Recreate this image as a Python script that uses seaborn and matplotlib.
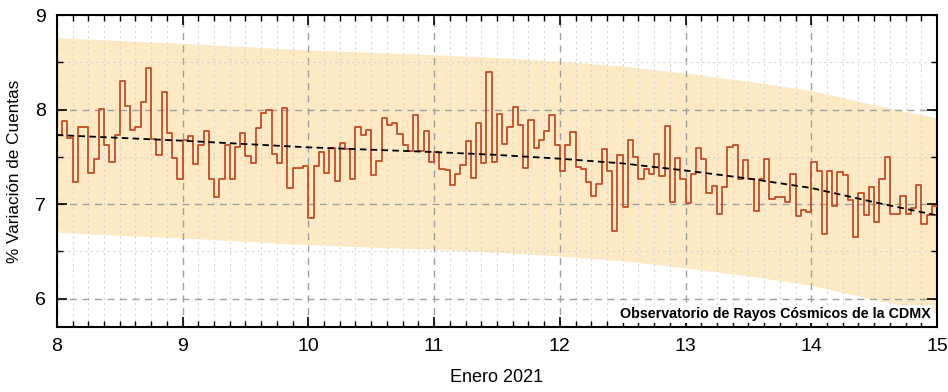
import numpy as np
import pandas as pd
import matplotlib
matplotlib.use("Agg")
import matplotlib.pyplot as plt
import seaborn as sns
from matplotlib.ticker import MultipleLocator

# hourly % variation of counts, 8 Jan 00h .. 14 Jan 23h
variacion = [
    7.73, 7.88, 7.70, 7.23, 7.82, 7.81, 7.33, 7.48, 8.01, 7.62, 7.45, 7.73,
    8.30, 8.04, 7.78, 7.81, 8.08, 8.44, 7.69, 7.52, 8.19, 7.75, 7.49, 7.27,
    7.68, 7.72, 7.42, 7.63, 7.77, 7.26, 7.07, 7.27, 7.62, 7.26, 7.60, 7.75,
    7.51, 7.43, 7.80, 7.96, 7.99, 7.53, 7.43, 8.02, 7.17, 7.38, 7.38, 7.40,
    6.85, 7.40, 7.55, 7.33, 7.59, 7.24, 7.65, 7.58, 7.27, 7.81, 7.73, 7.78,
    7.31, 7.46, 7.91, 7.84, 7.86, 7.74, 7.63, 7.56, 7.94, 7.56, 7.77, 7.44,
    7.55, 7.37, 7.36, 7.20, 7.32, 7.41, 7.67, 7.28, 7.86, 7.43, 8.40, 7.45,
    7.95, 7.64, 7.82, 8.03, 7.84, 7.38, 7.89, 7.59, 7.68, 7.77, 7.94, 7.62,
    7.35, 7.63, 7.76, 7.39, 7.37, 7.23, 7.09, 7.21, 7.58, 7.35, 6.71, 7.52,
    6.97, 7.68, 7.50, 7.27, 7.37, 7.32, 7.53, 7.30, 7.83, 7.02, 7.49, 7.26,
    7.01, 7.32, 7.59, 7.48, 7.12, 7.19, 6.89, 7.18, 7.60, 7.62, 7.26, 7.47,
    7.27, 6.93, 7.27, 7.48, 7.05, 7.07, 7.07, 7.02, 7.32, 6.87, 6.94, 6.92,
    7.45, 7.35, 6.68, 7.35, 6.98, 7.34, 7.31, 7.04, 6.65, 7.12, 6.88, 7.18,
    6.81, 7.26, 7.50, 6.90, 6.89, 7.09, 6.89, 6.96, 7.20, 6.79, 6.88, 6.98,
]

# trend curve read at half-day nodes
dias_tendencia = [8.0, 8.5, 9.0, 9.5, 10.0, 10.5, 11.0, 11.5,
                  12.0, 12.5, 13.0, 13.5, 14.0, 14.5, 15.0]
tendencia = [7.73, 7.70, 7.67, 7.635, 7.60, 7.575, 7.55, 7.52,
             7.48, 7.43, 7.355, 7.27, 7.17, 7.02, 6.88]
banda = 1.03  # half width of the shaded band around the trend

sns.set_theme(style="ticks")
plt.rcParams["font.family"] = ["Liberation Sans", "DejaVu Sans"]
plt.rcParams["text.color"] = "black"
plt.rcParams["axes.labelcolor"] = "black"

dias = 8 + np.arange(len(variacion)) / 24
# repeat the last value so the final step reaches day 15
df = pd.DataFrame({"dia": np.append(dias, 15.0),
                   "var": variacion + variacion[-1:]})
tend = np.array(tendencia)

fig = plt.figure(figsize=(9.48, 3.92), dpi=100)
ax = fig.add_axes([0.060, 0.166, 0.9284, 0.7957])

ax.fill_between(dias_tendencia, tend - banda, tend + banda,
                color="#fde9c4", lw=0, zorder=0.1)

sns.lineplot(data=df, x="dia", y="var", ax=ax, drawstyle="steps-post",
             estimator=None, color="#c24d27", lw=1.3, zorder=3)
sns.lineplot(x=dias_tendencia, y=tendencia, ax=ax, color="black",
             linestyle=(0, (3.6, 2.4)), lw=1.3, zorder=4)

ax.set_xlim(8, 15)
ax.set_ylim(5.7, 9)
ax.xaxis.set_major_locator(MultipleLocator(1))
ax.xaxis.set_minor_locator(MultipleLocator(1 / 8))
ax.yaxis.set_major_locator(MultipleLocator(1))
ax.yaxis.set_minor_locator(MultipleLocator(0.5))

ax.grid(which="major", color="#a0a0a0", lw=1.0, linestyle=(0, (5, 4)))
ax.grid(which="minor", color="#d6d6d6", lw=0.8, linestyle=(0, (2, 3)))
ax.set_axisbelow(True)

ax.tick_params(which="both", direction="in", top=True, right=True,
               colors="black", labelsize=14)
ax.tick_params(which="major", length=7, width=1.2, pad=8)
ax.tick_params(which="minor", length=4, width=1.0)
for s in ax.spines.values():
    s.set_linewidth(1.5)
    s.set_color("black")

ax.set_xlabel("Enero 2021", fontsize=13, labelpad=10)
ax.set_ylabel("% Variación de Cuentas", fontsize=12.3, labelpad=9)

ax.text(0.993, 0.02, "Observatorio de Rayos Cósmicos de la CDMX",
        transform=ax.transAxes, ha="right", va="bottom", fontsize=10.3,
        fontweight="bold", zorder=5,
        bbox=dict(facecolor="white", edgecolor="none", pad=1.5))

fig.savefig("out.png", dpi=100)
